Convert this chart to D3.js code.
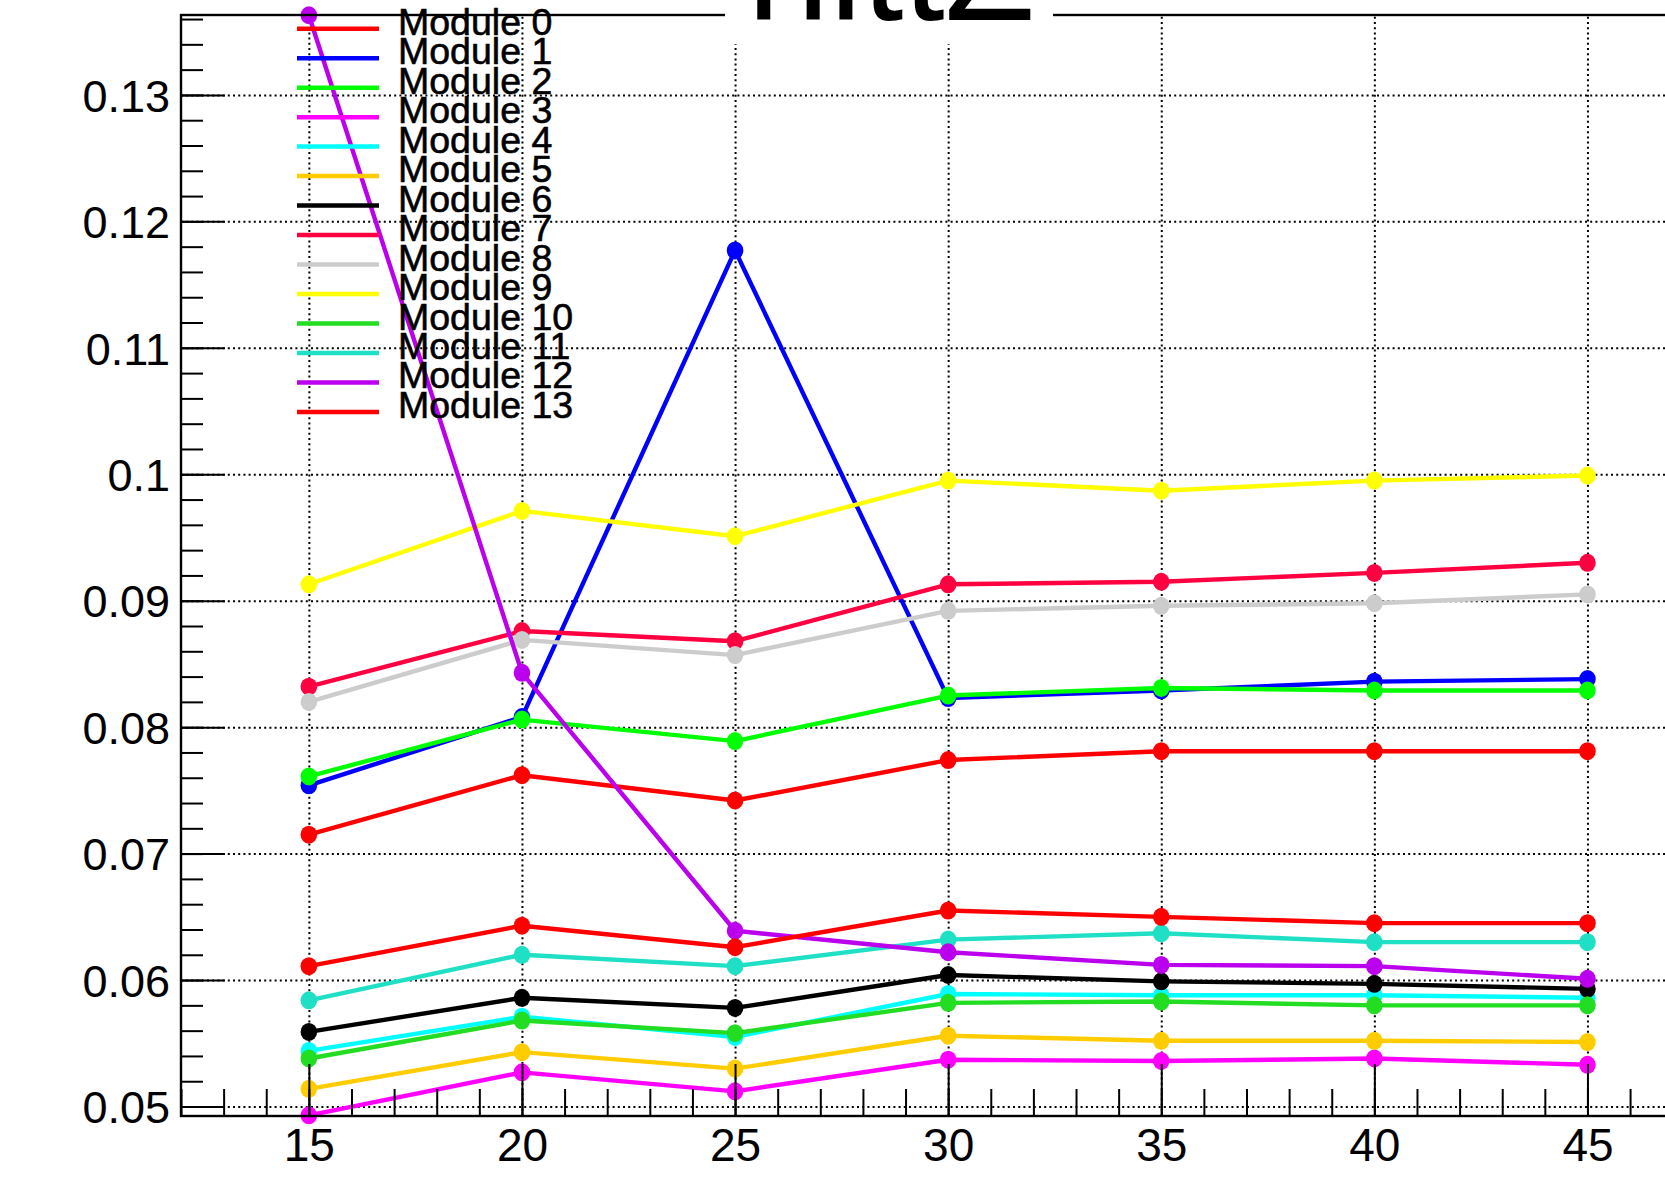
<!DOCTYPE html>
<html>
<head>
<meta charset="utf-8">
<script src="https://cdn.jsdelivr.net/npm/d3@7"></script>
<style>
  html, body { margin: 0; padding: 0; background: #ffffff; overflow: hidden; }
  text { font-family: "Liberation Sans", Arial, Helvetica, sans-serif; }
</style>
</head>
<body>
<svg id="chart" width="1665" height="1182"></svg>
<script>
// ---- data -------------------------------------------------------------
const xValues = [15, 20, 25, 30, 35, 40, 45];

const moduleNames = ["Module 0", "Module 1", "Module 2", "Module 3", "Module 4",
  "Module 5", "Module 6", "Module 7", "Module 8", "Module 9", "Module 10",
  "Module 11", "Module 12", "Module 13"];

const moduleColors = ["#ff0000", "#0000ff", "#00ff00", "#ff00ff", "#00ffff",
  "#ffcc00", "#000000", "#ff0040", "#cccccc", "#ffff00", "#22dd22",
  "#1fe0c4", "#bb00ee", "#ff0000"];

const module0  = [0.0715, 0.0762, 0.0742, 0.0774, 0.0781, 0.0781, 0.0781];
const module1  = [0.0754, 0.0808, 0.1177, 0.0823, 0.0829, 0.0836, 0.0838];
const module2  = [0.0761, 0.0806, 0.0789, 0.0825, 0.0831, 0.0829, 0.0829];
const module3  = [0.0493, 0.0527, 0.0512, 0.0537, 0.0536, 0.0538, 0.0533];
const module4  = [0.0544, 0.0571, 0.0555, 0.0589, 0.0588, 0.0588, 0.0586];
const module5  = [0.0514, 0.0543, 0.0530, 0.0556, 0.0552, 0.0552, 0.0551];
const module6  = [0.0559, 0.0586, 0.0578, 0.0604, 0.0599, 0.0597, 0.0593];
const module7  = [0.0832, 0.0876, 0.0868, 0.0913, 0.0915, 0.0922, 0.0930];
const module8  = [0.0820, 0.0869, 0.0857, 0.0892, 0.0896, 0.0898, 0.0905];
const module9  = [0.0913, 0.0971, 0.0951, 0.0995, 0.0987, 0.0995, 0.0999];
const module10 = [0.0538, 0.0568, 0.0558, 0.0582, 0.0583, 0.0580, 0.0580];
const module11 = [0.0584, 0.0620, 0.0611, 0.0632, 0.0637, 0.0630, 0.0630];
const module12 = [0.1363, 0.0843, 0.0639, 0.0622, 0.0612, 0.0611, 0.0601];
const module13 = [0.0611, 0.0643, 0.0626, 0.0655, 0.0650, 0.0645, 0.0645];

const moduleValues = [module0, module1, module2, module3, module4, module5, module6,
  module7, module8, module9, module10, module11, module12, module13];

const xMajorTicks = [15, 20, 25, 30, 35, 40, 45];
const xMinorTicks = d3.range(12, 49, 1);
const yMajorTicks = [0.05, 0.06, 0.07, 0.08, 0.09, 0.10, 0.11, 0.12, 0.13];
const yMinorTicks = d3.range(0, 44).map(i => 0.05 + i * 0.002);
const yTickLabels = ["0.05", "0.06", "0.07", "0.08", "0.09", "0.1", "0.11", "0.12", "0.13"];

const titleText = "hittZ";

// ---- layout -----------------------------------------------------------
const svg = d3.select("#chart");
const frameLeft = 181, frameTop = 15, frameBottom = 1116;
const pxPerUnit = 42.62;

const x = d3.scaleLinear().domain([12, 48]).range([frameLeft, frameLeft + 36 * pxPerUnit]);
const y = d3.scaleLinear().domain([0.04925, 0.13632]).range([frameBottom, frameTop]);
const frameRight = x(48);

// ---- grid -------------------------------------------------------------
const grid = svg.append("g").attr("class", "grid");
grid.append("g")
  .attr("transform", `translate(0,${frameBottom})`)
  .call(d3.axisBottom(x).tickValues(xMajorTicks).tickSize(-(frameBottom - frameTop)).tickFormat(""))
  .call(g => g.select(".domain").remove());
grid.append("g")
  .attr("transform", `translate(${frameLeft},0)`)
  .call(d3.axisLeft(y).tickValues(yMajorTicks).tickSize(-(frameRight - frameLeft)).tickFormat(""))
  .call(g => g.select(".domain").remove());
grid.selectAll("line")
  .attr("stroke", "#000")
  .attr("stroke-width", 2)
  .attr("stroke-dasharray", "2,3.2");

// ---- series -----------------------------------------------------------
const line = d3.line().x(d => x(d[0])).y(d => y(d[1]));
const seriesG = svg.append("g").attr("class", "series");
moduleValues.forEach((vals, i) => {
  const pts = xValues.map((xv, j) => [xv, vals[j]]);
  const g = seriesG.append("g");
  g.append("path")
    .attr("d", line(pts))
    .attr("fill", "none")
    .attr("stroke", moduleColors[i])
    .attr("stroke-width", 4.4)
    .attr("stroke-linejoin", "round");
  g.selectAll("ellipse").data(pts).join("ellipse")
    .attr("cx", d => x(d[0]))
    .attr("cy", d => y(d[1]))
    .attr("rx", 8.3)
    .attr("ry", 9)
    .attr("fill", moduleColors[i]);
});

// ---- axes -------------------------------------------------------------
const axes = svg.append("g").attr("class", "axes");
// x minor and major ticks (drawn inward from the bottom edge)
axes.append("g")
  .attr("transform", `translate(0,${frameBottom})`)
  .call(d3.axisBottom(x).tickValues(xMinorTicks).tickSize(-27).tickFormat(""))
  .call(g => g.select(".domain").remove());
const xAxisG = axes.append("g")
  .attr("transform", `translate(0,${frameBottom})`)
  .call(d3.axisBottom(x).tickValues(xMajorTicks).tickSize(-52).tickSizeOuter(0)
        .tickFormat(d3.format("d")))
  .call(g => g.select(".domain").remove());
xAxisG.selectAll("text")
  .attr("y", 45).attr("dy", 0)
  .attr("font-size", 46)
  .attr("fill", "#000");

// y minor and major ticks
axes.append("g")
  .attr("transform", `translate(${frameLeft},0)`)
  .call(d3.axisLeft(y).tickValues(yMinorTicks).tickSize(-22).tickFormat(""))
  .call(g => g.select(".domain").remove());
const yAxisG = axes.append("g")
  .attr("transform", `translate(${frameLeft},0)`)
  .call(d3.axisLeft(y).tickValues(yMajorTicks).tickSize(-44)
        .tickFormat((d, i) => yTickLabels[i]))
  .call(g => g.select(".domain").remove());
yAxisG.selectAll("text")
  .attr("x", -11).attr("dy", "0.36em")
  .attr("font-size", 45)
  .attr("fill", "#000");
axes.selectAll(".tick line").attr("stroke", "#000").attr("stroke-width", 2);

// frame
axes.append("rect")
  .attr("x", frameLeft).attr("y", frameTop)
  .attr("width", frameRight - frameLeft).attr("height", frameBottom - frameTop)
  .attr("fill", "none").attr("stroke", "#000").attr("stroke-width", 2.4);

// ---- legend -----------------------------------------------------------
const legend = svg.append("g").attr("class", "legend");
const legendTop = 28.7, legendStep = 29.48;
moduleNames.forEach((name, i) => {
  const ly = legendTop + i * legendStep;
  legend.append("line")
    .attr("x1", 297).attr("x2", 379).attr("y1", ly).attr("y2", ly)
    .attr("stroke", moduleColors[i]).attr("stroke-width", 4.5);
  legend.append("text")
    .attr("x", 398).attr("y", ly + 6)
    .attr("font-size", 37.5)
    .attr("fill", "#000")
    .attr("stroke", "#000")
    .attr("stroke-width", 0.6)
    .text(name);
});

// ---- title ------------------------------------------------------------
const titleG = svg.append("g").attr("class", "title");
titleG.append("rect")
  .attr("x", 725).attr("y", -60).attr("width", 328).attr("height", 104)
  .attr("fill", "#fff");
titleG.append("text")
  .attr("x", 891).attr("y", 20)
  .attr("text-anchor", "middle")
  .attr("font-family", "'DejaVu Sans', sans-serif")
  .attr("font-size", 148)
  .attr("fill", "#000")
  .text(titleText);
</script>
</body>
</html>
